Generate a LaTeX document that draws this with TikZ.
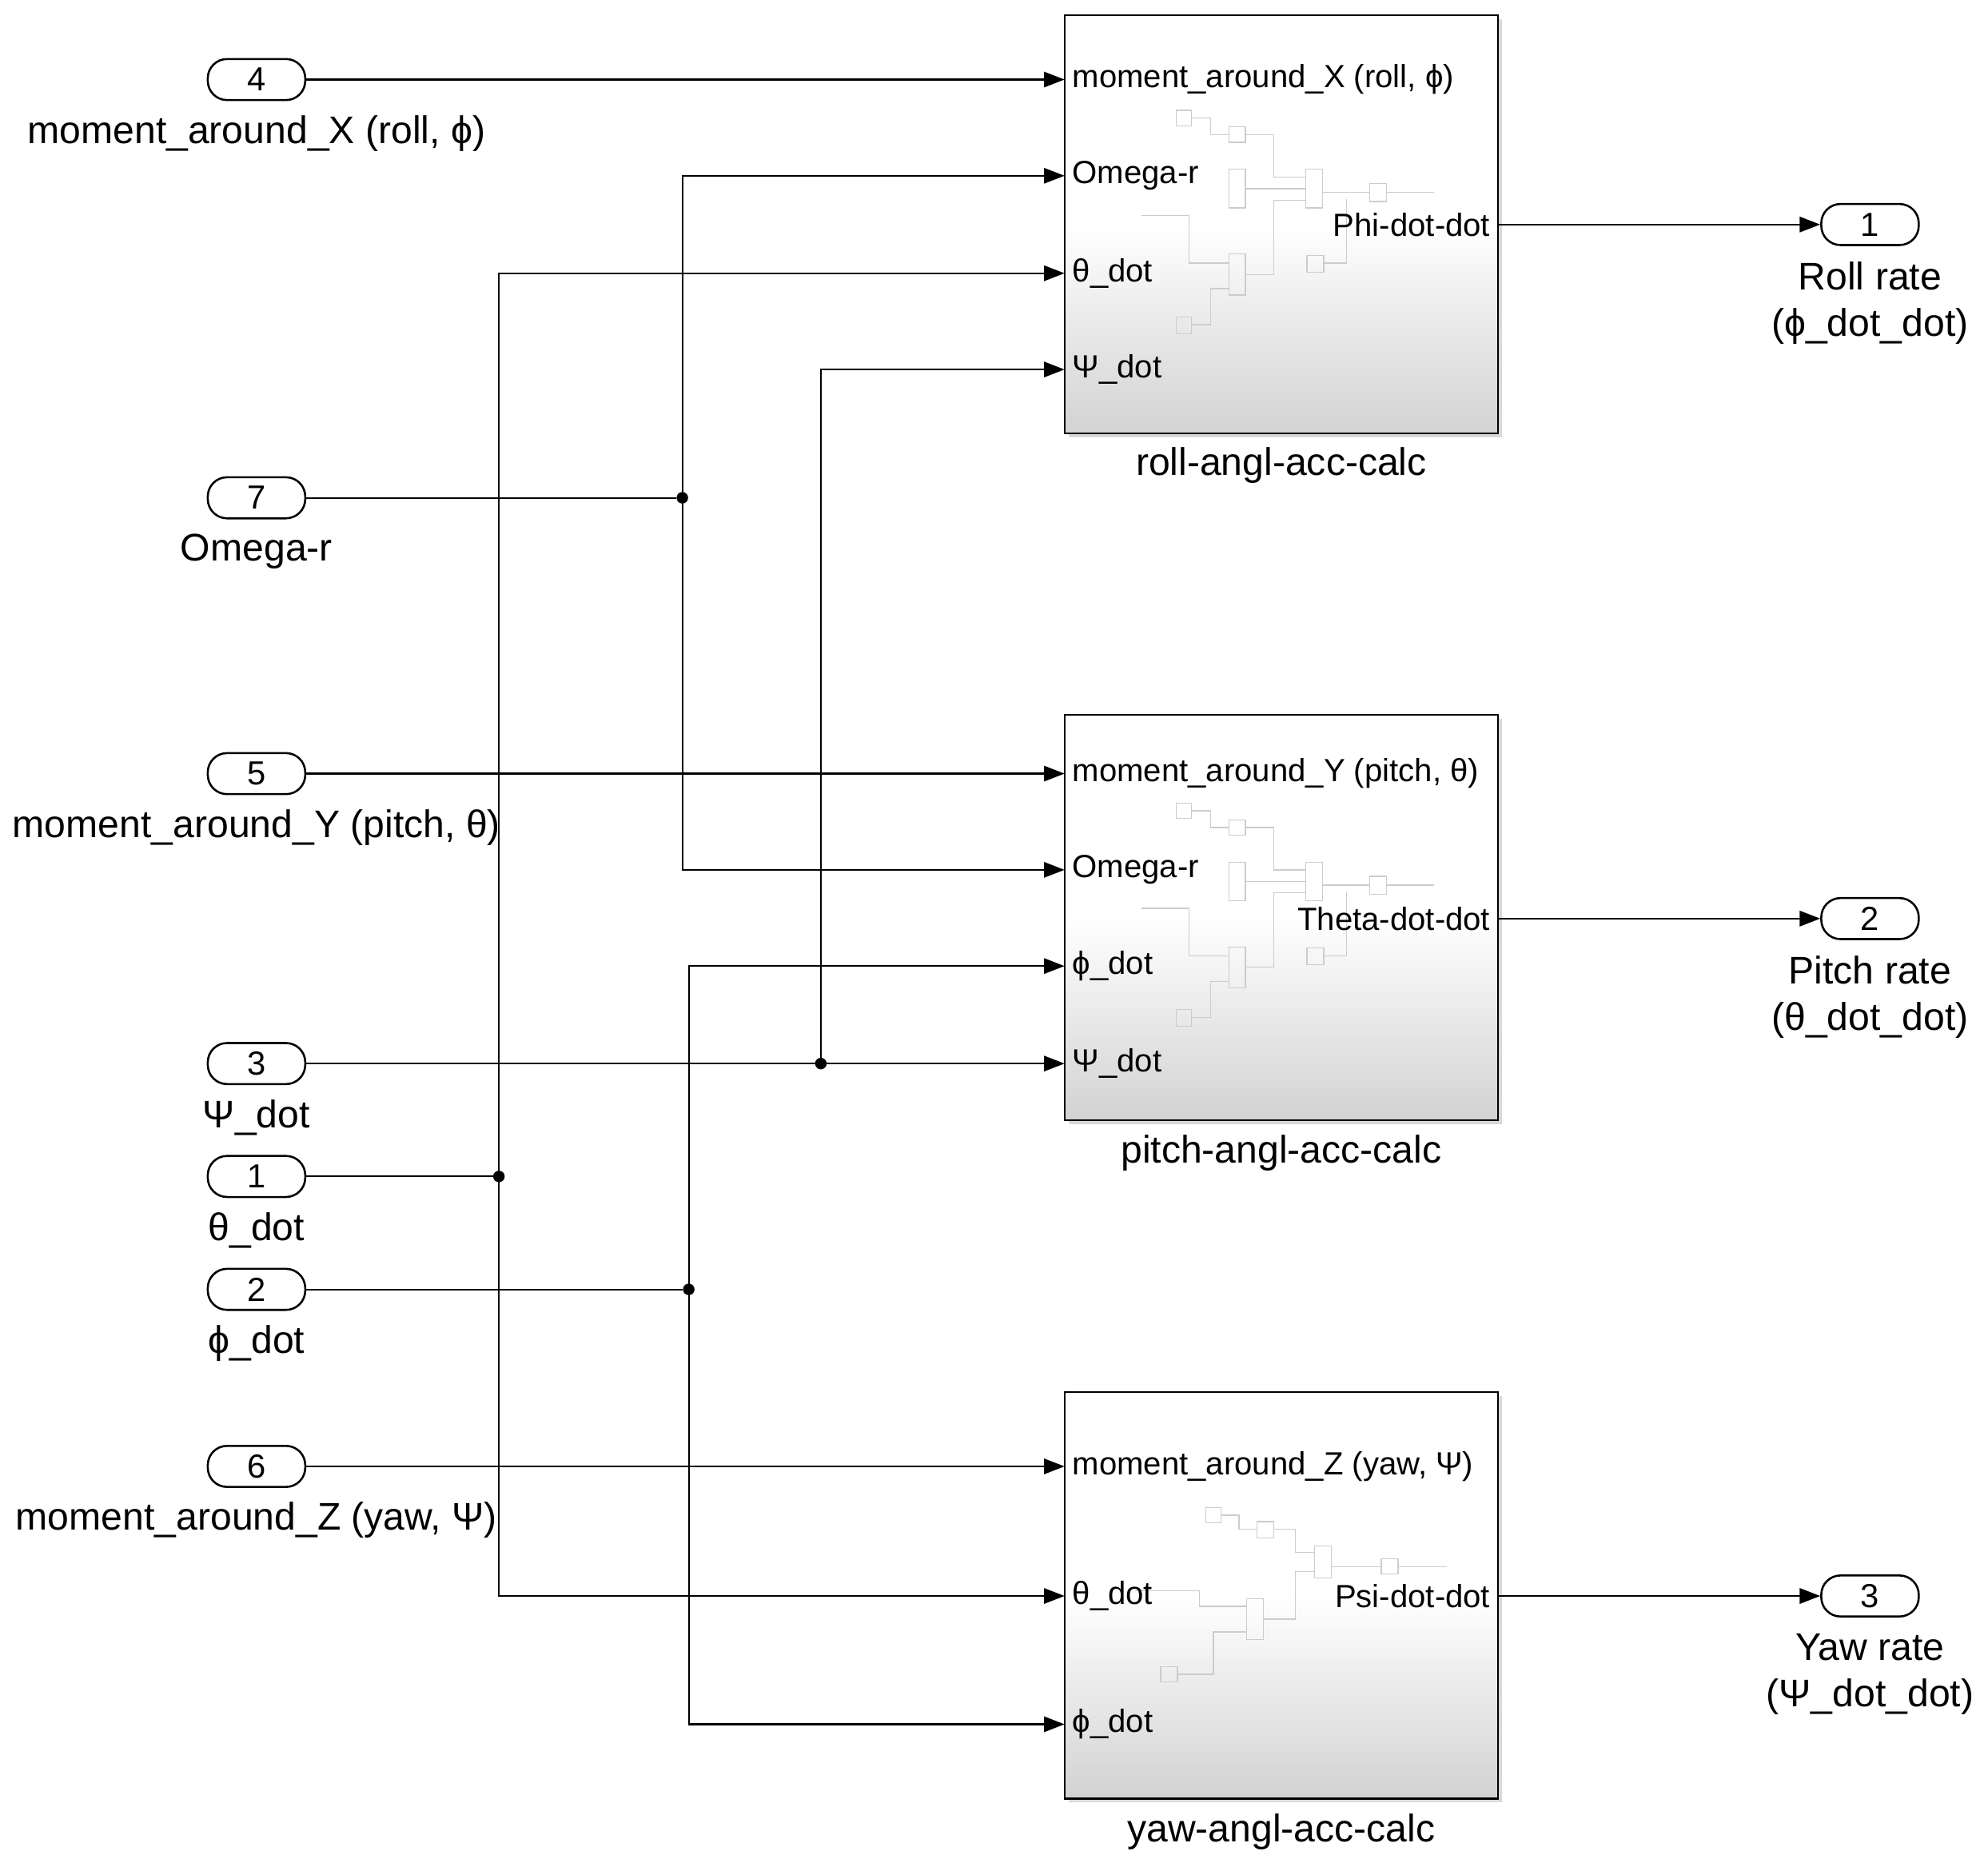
\documentclass[tikz,border=0pt]{standalone}
\usepackage{fontspec}
\setmainfont{Liberation Sans}
\usetikzlibrary{arrows.meta,shadows}
\begin{document}
\begin{tikzpicture}[x=1pt,y=-1pt,
  port/.style={draw,line width=1.6pt,rounded corners=15pt,minimum width=76pt,minimum height=32pt,inner sep=0pt,font=\fontsize{26}{30}\selectfont},
  lab/.style={font=\fontsize{30}{36}\selectfont,align=center},
  blk/.style={draw,line width=1.4pt,top color=white,bottom color=gray!35,middle color=white,drop shadow={shadow xshift=3pt,shadow yshift=-3pt,opacity=0.3},inner sep=0pt},
  pl/.style={font=\fontsize{25}{30}\selectfont,anchor=west,inner sep=0pt},
  wire/.style={line width=1.3pt,-{Triangle[length=16pt,width=12pt]}},
  ln/.style={line width=1.3pt},
  dot/.style={circle,fill,inner sep=0pt,minimum size=9pt},
  ghost/.style={draw=gray!40,line width=0.8pt}]
\useasboundingbox (0,0) rectangle (1550,1449);
% blocks
\node[blk,minimum width=338pt,minimum height=326pt] (roll) at (999,175) {};
\node[blk,minimum width=338pt,minimum height=316pt] (pitch) at (999,715) {};
\node[blk,minimum width=338pt,minimum height=317pt] (yaw) at (999,1243.5) {};
% ghost internals
\foreach \dy in {0,540} {
 \draw[ghost] (917,86+\dy) rectangle (929,98+\dy) (958,99+\dy) rectangle (971,111+\dy)
  (958,132+\dy) rectangle (971,162+\dy) (1018,132+\dy) rectangle (1031,162+\dy)
  (1068,143+\dy) rectangle (1081,157+\dy) (958,198+\dy) rectangle (971,230+\dy)
  (1019,199+\dy) rectangle (1032,212+\dy) (917,247+\dy) rectangle (929,260+\dy);
 \draw[ghost] (929,92+\dy) -| (944,105+\dy) -- (958,105+\dy) (971,105+\dy) -| (993,138+\dy) -- (1018,138+\dy)
  (971,147+\dy) -- (1018,147+\dy) (1031,150+\dy) -- (1068,150+\dy) (1081,150+\dy) -- (1118,150+\dy)
  (890,168+\dy) -- (927,168+\dy) |- (958,205+\dy) (971,214+\dy) -| (993,156+\dy) -- (1018,156+\dy)
  (929,253+\dy) -| (944,225+\dy) -- (958,225+\dy) (1032,205+\dy) -| (1050,155+\dy);
}
\draw[ghost] (940,1175) rectangle (952,1187) (980,1186) rectangle (993,1199) (1025,1205) rectangle (1038,1230)
 (1077,1215) rectangle (1090,1227) (972,1246) rectangle (985,1278) (905,1299) rectangle (918,1311);
\draw[ghost] (952,1181) -| (966,1192) -- (980,1192) (993,1192) -| (1010,1210) -- (1025,1210) (1038,1221) -- (1077,1221)
 (1090,1221) -- (1128,1221) (885,1240) -- (935,1240) |- (972,1252) (918,1305) -| (946,1272) -- (972,1272)
 (985,1262) -| (1010,1225) -- (1025,1225);
% port labels
\node[pl] at (836,62) {moment\_around\_X (roll, ϕ)};
\node[pl] at (836,137) {Omega-r};
\node[pl] at (836,213) {θ\_dot};
\node[pl] at (836,288) {Ψ\_dot};
\node[pl,anchor=east] at (1162,175) {Phi-dot-dot};
\node[pl] at (836,603) {moment\_around\_Y (pitch, θ)};
\node[pl] at (836,678) {Omega-r};
\node[pl] at (836,753) {ϕ\_dot};
\node[pl] at (836,829) {Ψ\_dot};
\node[pl,anchor=east] at (1162,716) {Theta-dot-dot};
\node[pl] at (836,1143) {moment\_around\_Z (yaw, Ψ)};
\node[pl] at (836,1244) {θ\_dot};
\node[pl] at (836,1344) {ϕ\_dot};
\node[pl,anchor=east] at (1162,1244) {Psi-dot-dot};
\node[lab] at (999,363) {roll-angl-acc-calc};
\node[lab] at (999,899) {pitch-angl-acc-calc};
\node[lab] at (999,1428) {yaw-angl-acc-calc};
% inports
\node[port] (i4) at (200,62) {4}; \node[lab] at (200,104) {moment\_around\_X (roll, ϕ)};
\node[port] (i7) at (200,388) {7}; \node[lab] at (200,430) {Omega-r};
\node[port] (i5) at (200,603) {5}; \node[lab] at (200,645) {moment\_around\_Y (pitch, θ)};
\node[port] (i3) at (200,829) {3}; \node[lab] at (200,871) {Ψ\_dot};
\node[port] (i1) at (200,917) {1}; \node[lab] at (200,959) {θ\_dot};
\node[port] (i2) at (200,1005) {2}; \node[lab] at (200,1047) {ϕ\_dot};
\node[port] (i6) at (200,1143) {6}; \node[lab] at (200,1185) {moment\_around\_Z (yaw, Ψ)};
% outports
\node[port] (o1) at (1458,175) {1}; \node[lab] at (1458,236) {Roll rate\\(ϕ\_dot\_dot)};
\node[port] (o2) at (1458,716) {2}; \node[lab] at (1458,777) {Pitch rate\\(θ\_dot\_dot)};
\node[port] (o3) at (1458,1244) {3}; \node[lab] at (1458,1305) {Yaw rate\\(Ψ\_dot\_dot)};
% junctions
\node[dot] (j7) at (532,388) {};
\node[dot] (j1) at (389,917) {};
\node[dot] (j3) at (640,829) {};
\node[dot] (j2) at (537,1005) {};
\coordinate (r1) at (830,62); \coordinate (r2) at (830,137); \coordinate (r3) at (830,213); \coordinate (r4) at (830,288);
\coordinate (p1) at (830,603); \coordinate (p2) at (830,678); \coordinate (p3) at (830,753); \coordinate (p4) at (830,829);
\coordinate (y1) at (830,1143); \coordinate (y2) at (830,1244); \coordinate (y3) at (830,1344);
% wires
\draw[wire] (i4) -- (r1);
\draw[wire] (i5) -- (p1);
\draw[wire] (i6) -- (y1);
\draw[ln] (i7) -- (j7); \draw[wire] (j7.center) |- (r2); \draw[wire] (j7.center) |- (p2);
\draw[ln] (i1) -- (j1); \draw[wire] (j1.center) |- (r3); \draw[wire] (j1.center) |- (y2);
\draw[wire] (i3) -- (p4); \draw[wire] (j3.center) |- (r4);
\draw[ln] (i2) -- (j2); \draw[wire] (j2.center) |- (p3); \draw[wire] (j2.center) |- (y3);
\draw[wire] (1168,175) -- (o1);
\draw[wire] (1168,716) -- (o2);
\draw[wire] (1168,1244) -- (o3);
\end{tikzpicture}
\end{document}
